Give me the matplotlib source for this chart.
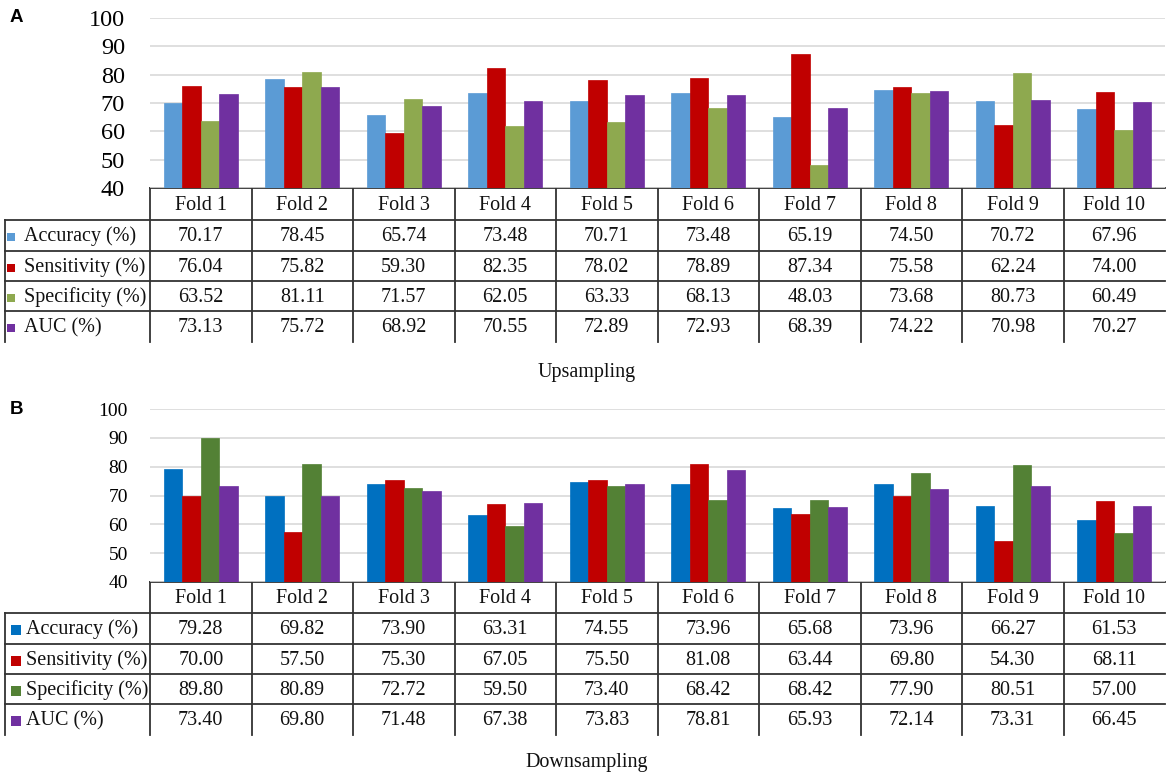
import matplotlib
matplotlib.use("Agg")
import matplotlib.pyplot as plt
import numpy as np

folds = ["Fold 1", "Fold 2", "Fold 3", "Fold 4", "Fold 5", "Fold 6", "Fold 7", "Fold 8", "Fold 9", "Fold 10"]
metrics = ["Accuracy (%)", "Sensitivity (%)", "Specificity (%)", "AUC (%)"]

up_accuracy = [70.17, 78.45, 65.74, 73.48, 70.71, 73.48, 65.19, 74.50, 70.72, 67.96]
up_sensitivity = [76.04, 75.82, 59.30, 82.35, 78.02, 78.89, 87.34, 75.58, 62.24, 74.00]
up_specificity = [63.52, 81.11, 71.57, 62.05, 63.33, 68.13, 48.03, 73.68, 80.73, 60.49]
up_auc = [73.13, 75.72, 68.92, 70.55, 72.89, 72.93, 68.39, 74.22, 70.98, 70.27]

down_accuracy = [79.28, 69.82, 73.90, 63.31, 74.55, 73.96, 65.68, 73.96, 66.27, 61.53]
down_sensitivity = [70.00, 57.50, 75.30, 67.05, 75.50, 81.08, 63.44, 69.80, 54.30, 68.11]
down_specificity = [89.80, 80.89, 72.72, 59.50, 73.40, 68.42, 68.42, 77.90, 80.51, 57.00]
down_auc = [73.40, 69.80, 71.48, 67.38, 73.83, 78.81, 65.93, 72.14, 73.31, 66.45]

yticks = [40, 50, 60, 70, 80, 90, 100]

up_colors = ["#5B9BD5", "#C00000", "#8EA94F", "#7030A0"]
down_colors = ["#0070C0", "#C00000", "#538135", "#7030A0"]

W, H = 1170, 780
fig = plt.figure(figsize=(W / 100, H / 100), dpi=100)
fig.patch.set_facecolor("white")

# overlay axes in pixel coordinates
ov = fig.add_axes([0, 0, 1, 1])
ov.set_xlim(0, W)
ov.set_ylim(H, 0)
ov.axis("off")

SERIF = "Liberation Serif"
SANS = "Liberation Sans"

x_left_tab = 5
x_col0 = 150
x_right = 1165
colw = (x_right - x_col0) / len(folds)


def panel(letter, series, colors, y_top, y_axis, row_ys, title, title_y,
          tick_size, tab_size, pad, key_x, key_size, text_x):
    ax = fig.add_axes([x_col0 / W, 1 - y_axis / H, (x_right - x_col0) / W, (y_axis - y_top) / H])
    ax.set_zorder(2)
    ax.patch.set_alpha(0)
    x = np.arange(len(folds))
    bw = 0.182
    for i, vals in enumerate(series):
        ax.bar(x + (i - 1.5) * bw, vals, width=bw, color=colors[i], zorder=3,
               edgecolor=colors[i], linewidth=0.5)
    ax.set_xlim(-0.5, len(folds) - 0.5)
    ax.set_ylim(40, 100)
    ax.set_yticks(yticks)
    ax.set_yticklabels([str(v) for v in yticks], fontfamily=SERIF, fontsize=tick_size)
    ax.tick_params(axis="y", length=0, pad=pad)
    ax.set_xticks([])
    ax.grid(axis="y", color="#D9D9D9", linewidth=1.2, zorder=0)
    for s in ax.spines.values():
        s.set_visible(False)

    y_head_top = y_axis
    y_head_bot = row_ys[0]
    y_bottom = row_ys[-1] + (row_ys[1] - row_ys[0])
    lc = "#333333"
    lw = 1.3
    ov.plot([x_col0, x_right], [y_head_top, y_head_top], color=lc, lw=lw)
    for yy in row_ys:
        ov.plot([x_left_tab, x_right], [yy, yy], color=lc, lw=lw)
    ov.plot([x_left_tab, x_left_tab], [y_head_bot, y_bottom], color=lc, lw=lw)
    for k in range(len(folds)):
        xx = x_col0 + k * colw
        ov.plot([xx, xx], [y_head_top, y_bottom], color=lc, lw=lw)
    for k, f in enumerate(folds):
        ov.text(x_col0 + (k + 0.5) * colw, (y_head_top + y_head_bot) / 2 + 1, f,
                ha="center", va="center", fontfamily=SERIF, fontsize=tab_size, color="#111111")
    rh = row_ys[1] - row_ys[0]
    for r, (m, vals) in enumerate(zip(metrics, series)):
        yc = row_ys[r] + rh / 2 + 1
        ov.add_patch(plt.Rectangle((key_x, yc - key_size / 2), key_size, key_size,
                                   color=colors[r], lw=0))
        ov.text(text_x, yc, m, ha="left", va="center",
                fontfamily=SERIF, fontsize=tab_size, color="#111111")
        for k, v in enumerate(vals):
            ov.text(x_col0 + (k + 0.5) * colw, yc, f"{v:.2f}", ha="center", va="center",
                    fontfamily=SERIF, fontsize=tab_size, color="#111111")
    ov.text(587, title_y, title, ha="center", va="center", fontfamily=SERIF,
            fontsize=14.5, color="#111111")
    ov.text(10, y_top, letter, ha="left", va="center", fontfamily=SANS,
            fontweight="bold", fontsize=13.5, color="black")


panel("A", [up_accuracy, up_sensitivity, up_specificity, up_auc], up_colors,
      18, 188, [220, 251, 281, 311], "Upsampling", 372,
      17.5, 14.5, 18, 7, 8, 24)
panel("B", [down_accuracy, down_sensitivity, down_specificity, down_auc], down_colors,
      409, 582, [613, 644, 674, 704], "Downsampling", 762,
      14, 14.5, 16, 11, 10, 26)

fig.savefig("out.png", dpi=100, facecolor="white")
